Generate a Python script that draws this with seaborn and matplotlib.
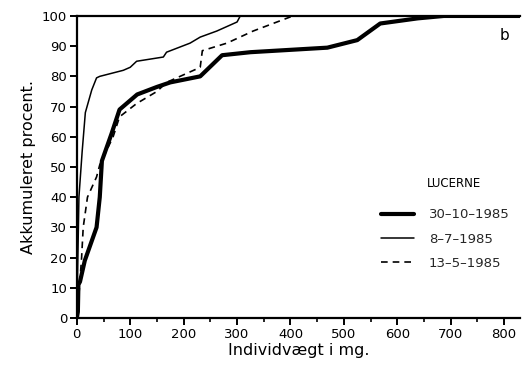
import numpy as np
import pandas as pd
import matplotlib
matplotlib.use("Agg")
import matplotlib.pyplot as plt
import seaborn as sns
from matplotlib.ticker import MultipleLocator

# cumulative percent vs individual weight (mg)
oct_x = [0, 2, 3, 6, 15, 21, 37, 43, 47, 65, 80, 113, 150, 175, 231, 272, 325, 469, 525, 568, 638, 687, 830]
oct_y = [0, 2, 11, 12, 19, 22, 30, 40, 52, 61, 69, 74, 76.5, 78, 80, 87, 88, 89.5, 92, 97.5, 99.2, 100, 100]

jul_x = [0, 1, 4, 10, 16, 28, 37, 43, 87, 100, 112, 162, 168, 212, 231, 262, 300, 306, 830]
jul_y = [0, 10, 40, 55, 68, 75.5, 79.5, 80, 82, 83, 85, 86.4, 88, 91, 93, 95, 98, 100, 100]

may_x = [0, 5, 9, 12, 20, 37, 43, 68, 80, 112, 150, 168, 225, 231, 235, 281, 330, 400, 410, 830]
may_y = [0, 10, 20, 30, 40, 46.7, 50.7, 60, 66.6, 71, 75, 78, 82.5, 83, 88.5, 91, 95, 99.7, 100, 100]

labels = ["30\u201310\u20131985", "8\u20137\u20131985", "13\u20135\u20131985"]

sns.set_theme(style="ticks")
plt.rcParams["font.family"] = ["DejaVu Sans"]

fig = plt.figure(figsize=(5.26, 3.71), dpi=100)
ax = fig.add_axes([0.146, 0.143, 0.843, 0.814])

sns.lineplot(x=oct_x, y=oct_y, ax=ax, color="black", lw=3.0, sort=False,
             estimator=None, label=labels[0])
sns.lineplot(x=jul_x, y=jul_y, ax=ax, color="black", lw=1.1, sort=False,
             estimator=None, label=labels[1])
sns.lineplot(x=may_x, y=may_y, ax=ax, color="black", lw=1.2, sort=False,
             estimator=None, label=labels[2])
ax.lines[2].set_linestyle((0, (4, 3)))

ax.set_xlim(0, 830)
ax.set_ylim(0, 100)
ax.xaxis.set_major_locator(MultipleLocator(100))
ax.xaxis.set_minor_locator(MultipleLocator(50))
ax.yaxis.set_major_locator(MultipleLocator(10))

for s in ["left", "bottom", "top"]:
    ax.spines[s].set_linewidth(1.6)
    ax.spines[s].set_color("black")
ax.spines["right"].set_visible(False)

ax.tick_params(axis="both", which="major", length=5, width=1.4, labelsize=9.5,
               colors="black", pad=2)
ax.tick_params(axis="x", which="minor", length=3, width=1.2, colors="black")

ax.set_xlabel("Individvægt i mg.", fontsize=11.5, labelpad=2, color="black")
ax.set_ylabel("Akkumuleret procent.", fontsize=11.5, labelpad=4, color="black")

ax.text(0.965, 0.935, "b", transform=ax.transAxes, fontsize=11, ha="center",
        va="center", color="black")
ax.text(0.79, 0.445, "LUCERNE", transform=ax.transAxes, fontsize=8.5,
        ha="left", va="center", color="black")

ax.legend(loc="upper left", bbox_to_anchor=(0.675, 0.38), frameon=False,
          fontsize=9.5, handlelength=2.5, handletextpad=1.1, labelspacing=0.85,
          borderaxespad=0)

fig.savefig("out.png", dpi=100)
